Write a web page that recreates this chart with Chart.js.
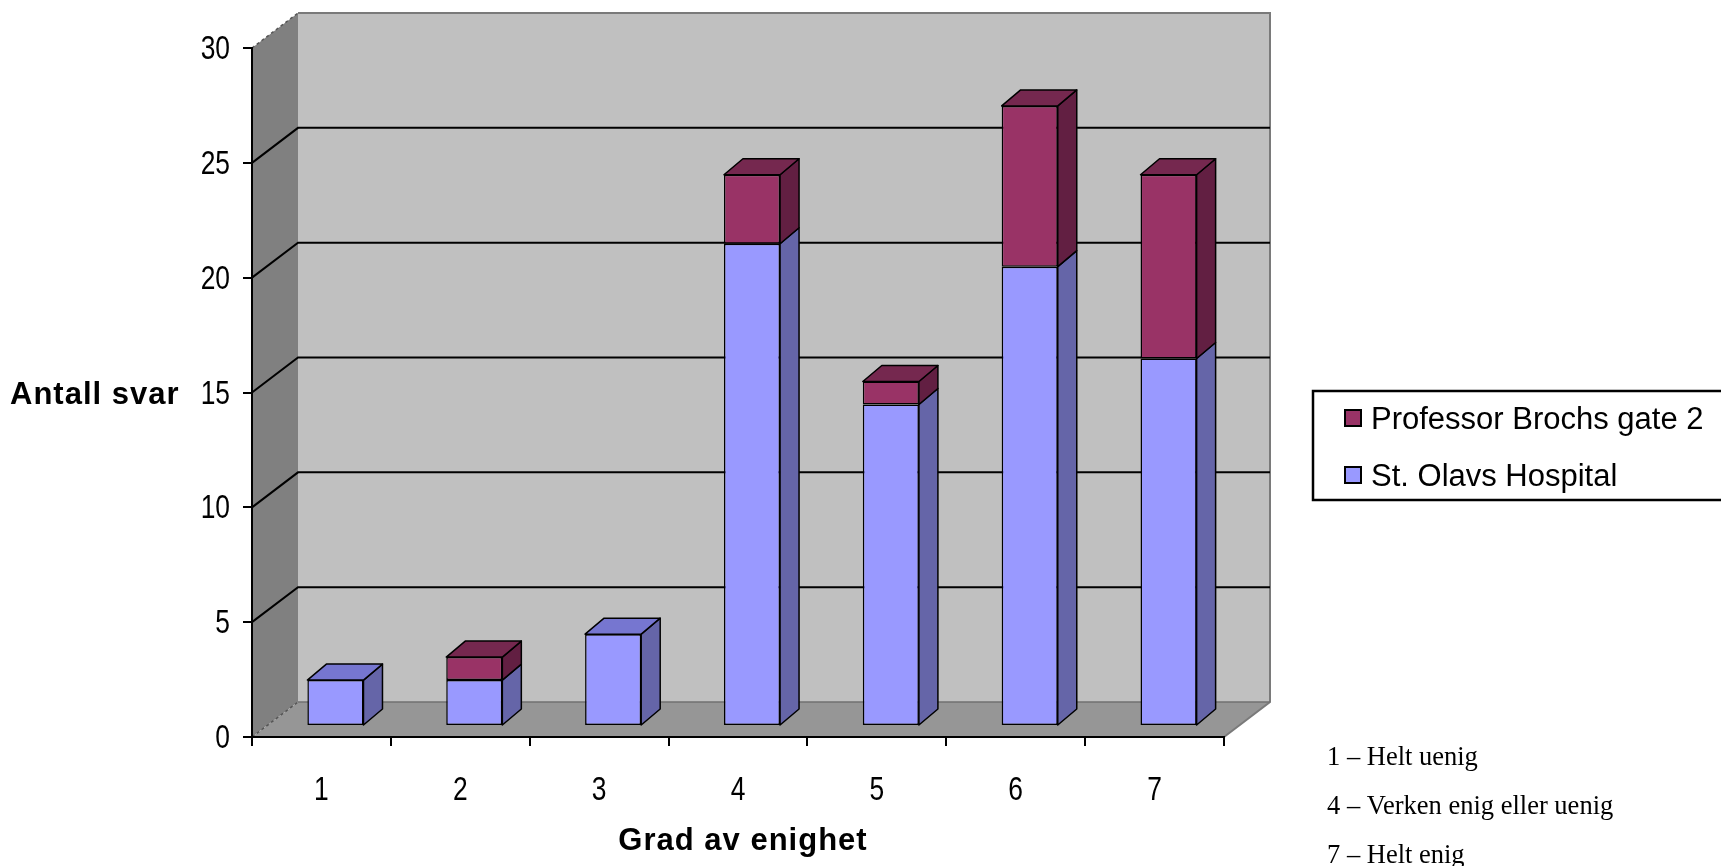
<!DOCTYPE html>
<html>
<head>
<meta charset="utf-8">
<script src="https://cdn.jsdelivr.net/npm/chart.js@4.4.1/dist/chart.umd.min.js"></script>
<style>
  html, body { margin: 0; padding: 0; background: #ffffff; }
  #wrap { width: 1721px; height: 866px; position: relative; }
</style>
</head>
<body>
<div id="wrap"><canvas id="chart"></canvas></div>
<script>
// Survey answers per agreement level (1 = disagree fully, 7 = agree fully)
const categories = ['1', '2', '3', '4', '5', '6', '7'];
const stOlavsHospital = [2, 2, 4, 21, 14, 20, 16];
const professorBrochsGate = [0, 1, 0, 3, 1, 7, 8];
const yTickValues = [0, 5, 10, 15, 20, 25, 30];
const seriesNames = ['St. Olavs Hospital', 'Professor Brochs gate 2'];
const legendOrder = ['Professor Brochs gate 2', 'St. Olavs Hospital'];
const yTitle = 'Antall svar';
const xTitle = 'Grad av enighet';
const scaleNotes = ['1 – Helt uenig', '4 – Verken enig eller uenig', '7 – Helt enig'];

// Oblique 3D look: depth of the walls and the bars, in pixels
const WALL_DX = 46, WALL_DY = 35;
const BAR_SHIFT_X = 14, BAR_SHIFT_Y = 11;
const BAR_DX = 19, BAR_DY = 16;

const SANS = '"Liberation Sans", Arial, Helvetica, sans-serif';
const SERIF = '"Liberation Serif", "Times New Roman", serif';
const TICK_FONT = '33px ' + SANS;
const TICK_SQUEEZE = 0.8;   // tick numbers use a condensed face

const faceColors = {
  'St. Olavs Hospital':      { front: '#9999FF', side: '#6565A8', top: '#7676D0' },
  'Professor Brochs gate 2': { front: '#993366', side: '#621F42', top: '#75284F' }
};

function poly(ctx, pts) {
  ctx.beginPath();
  ctx.moveTo(pts[0][0], pts[0][1]);
  for (let i = 1; i < pts.length; i++) ctx.lineTo(pts[i][0], pts[i][1]);
  ctx.closePath();
}

function squeezedText(ctx, txt, x, y, align, baseline) {
  ctx.save();
  ctx.translate(x, y);
  ctx.scale(TICK_SQUEEZE, 1);
  ctx.textAlign = align;
  ctx.textBaseline = baseline;
  ctx.fillText(txt, 0, 0);
  ctx.restore();
}

// Back wall, side wall, floor and the gridlines that run over them
const wallsPlugin = {
  id: 'walls',
  beforeDraw(chart) {
    const { ctx, chartArea: a } = chart;
    const y = chart.scales.y;
    const yTop = y.getPixelForValue(y.max);
    const yBot = y.getPixelForValue(y.min);
    ctx.save();
    ctx.fillStyle = '#ffffff';
    ctx.fillRect(0, 0, chart.width, chart.height);

    ctx.fillStyle = '#C0C0C0';
    ctx.fillRect(a.left + WALL_DX, yTop - WALL_DY, a.right - a.left, yBot - yTop);

    ctx.fillStyle = '#808080';
    poly(ctx, [[a.left, yTop], [a.left + WALL_DX, yTop - WALL_DY], [a.left + WALL_DX, yBot - WALL_DY], [a.left, yBot]]);
    ctx.fill();

    ctx.fillStyle = '#969696';
    poly(ctx, [[a.left, yBot], [a.left + WALL_DX, yBot - WALL_DY], [a.right + WALL_DX, yBot - WALL_DY], [a.right, yBot]]);
    ctx.fill();

    // outline of the back wall and the right floor edge
    ctx.strokeStyle = '#7a7a7a';
    ctx.lineWidth = 2;
    ctx.beginPath();
    ctx.moveTo(a.left + WALL_DX, yTop - WALL_DY);
    ctx.lineTo(a.right + WALL_DX, yTop - WALL_DY);
    ctx.lineTo(a.right + WALL_DX, yBot - WALL_DY);
    ctx.lineTo(a.right, yBot);
    ctx.stroke();

    y.ticks.forEach(t => {
      const py = y.getPixelForValue(t.value);
      const edge = (t.value === y.min || t.value === y.max);
      ctx.beginPath();
      if (edge) {
        ctx.strokeStyle = '#555555';
        ctx.lineWidth = 1.5;
        ctx.setLineDash([3, 3]);
        ctx.moveTo(a.left, py);
        ctx.lineTo(a.left + WALL_DX, py - WALL_DY);
        ctx.stroke();
        ctx.setLineDash([]);
        if (t.value === y.min) {
          ctx.beginPath();
          ctx.strokeStyle = '#707070';
          ctx.lineWidth = 1.5;
          ctx.moveTo(a.left + WALL_DX, py - WALL_DY);
          ctx.lineTo(a.right + WALL_DX, py - WALL_DY);
          ctx.stroke();
        }
      } else {
        ctx.strokeStyle = '#000000';
        ctx.lineWidth = 2;
        ctx.moveTo(a.left, py);
        ctx.lineTo(a.left + WALL_DX, py - WALL_DY);
        ctx.lineTo(a.right + WALL_DX, py - WALL_DY);
        ctx.stroke();
      }
    });
    ctx.restore();
  }
};

// Bars are drawn slightly behind the front plane; side and top faces follow each bar element
const bars3dPlugin = {
  id: 'bars3d',
  beforeDatasetsDraw(chart) {
    chart.ctx.save();
    chart.ctx.translate(BAR_SHIFT_X, -BAR_SHIFT_Y);
  },
  afterDatasetsDraw(chart) {
    const ctx = chart.ctx;
    const metas = chart.getSortedVisibleDatasetMetas();
    ctx.lineWidth = 1.5;
    ctx.lineJoin = 'round';
    ctx.strokeStyle = '#000000';
    for (let i = 0; i < chart.data.labels.length; i++) {
      let topBar = null;
      metas.forEach(meta => {
        const ds = chart.data.datasets[meta.index];
        if (!ds.data[i]) return;
        const { x, y, base, width } = meta.data[i].getProps(['x', 'y', 'base', 'width'], true);
        const r = x + width / 2;
        const c = faceColors[ds.label];
        ctx.fillStyle = c.side;
        poly(ctx, [[r, y], [r + BAR_DX, y - BAR_DY], [r + BAR_DX, base - BAR_DY], [r, base]]);
        ctx.fill();
        ctx.stroke();
        if (!topBar || y < topBar.y) topBar = { x, y, width, c };
      });
      if (topBar) {
        const l = topBar.x - topBar.width / 2, r = topBar.x + topBar.width / 2, t = topBar.y;
        ctx.fillStyle = topBar.c.top;
        poly(ctx, [[l, t], [l + BAR_DX, t - BAR_DY], [r + BAR_DX, t - BAR_DY], [r, t]]);
        ctx.fill();
        ctx.stroke();
      }
    }
    ctx.restore();
  }
};

// Tick numbers, axis titles, legend box and the scale notes
const textPlugin = {
  id: 'texts',
  afterDraw(chart) {
    const { ctx, chartArea: a } = chart;
    const x = chart.scales.x;
    const y = chart.scales.y;
    ctx.save();
    ctx.fillStyle = '#000000';

    // tick numbers placed from the scales
    ctx.font = TICK_FONT;
    y.ticks.forEach(t => {
      squeezedText(ctx, String(t.value), a.left - 22, y.getPixelForValue(t.value) + 2, 'right', 'middle');
    });
    categories.forEach((lab, i) => {
      squeezedText(ctx, lab, x.getPixelForValue(i), 791, 'center', 'middle');
    });

    ctx.textBaseline = 'alphabetic';
    ctx.font = 'bold 31px ' + SANS;
    try { ctx.letterSpacing = '1px'; } catch (e) {}
    ctx.textAlign = 'left';
    ctx.fillText(yTitle, 10, y.getPixelForValue(15) + 11);
    ctx.textAlign = 'center';
    ctx.fillText(xTitle, (a.left + a.right) / 2 + 5, 850);
    try { ctx.letterSpacing = '0px'; } catch (e) {}

    // legend
    ctx.lineWidth = 2.5;
    ctx.strokeStyle = '#000000';
    ctx.strokeRect(1313, 391, 420, 109);
    ctx.font = '31px ' + SANS;
    ctx.textAlign = 'left';
    legendOrder.forEach((name, k) => {
      const ds = chart.data.datasets.find(d => d.label === name);
      const sy = 410 + k * 57;
      ctx.fillStyle = ds.backgroundColor;
      ctx.fillRect(1345, sy, 16, 16);
      ctx.lineWidth = 2;
      ctx.strokeRect(1345, sy, 16, 16);
      ctx.fillStyle = '#000000';
      ctx.fillText(name, 1371, sy + 19);
    });

    // scale notes
    ctx.font = '26.5px ' + SERIF;
    scaleNotes.forEach((txt, k) => {
      ctx.fillText(txt, 1327, 765 + k * 49);
    });
    ctx.restore();
  }
};

const datasets = [
  { label: seriesNames[0], data: stOlavsHospital },
  { label: seriesNames[1], data: professorBrochsGate }
].map(d => Object.assign(d, {
  backgroundColor: faceColors[d.label].front,
  borderColor: '#000000',
  borderWidth: 1.5,
  borderSkipped: false,
  categoryPercentage: 1,
  barPercentage: 0.404
}));

new Chart(document.getElementById('chart'), {
  type: 'bar',
  data: { labels: categories, datasets },
  options: {
    responsive: true,
    maintainAspectRatio: false,
    animation: false,
    devicePixelRatio: 1,
    layout: { padding: { left: 0, top: 48, right: 497, bottom: 0 } },
    plugins: { legend: { display: false }, tooltip: { enabled: false } },
    scales: {
      x: {
        stacked: true,
        grid: { offset: true, drawOnChartArea: false, drawTicks: true, tickLength: 9, color: '#000000', lineWidth: 2 },
        border: { display: true, color: '#000000', width: 2 },
        ticks: { display: false },
        afterFit(s) { s.height = 129; }
      },
      y: {
        stacked: true,
        min: 0,
        max: 30,
        afterBuildTicks(s) { s.ticks = yTickValues.map(v => ({ value: v })); },
        grid: { drawOnChartArea: false, drawTicks: true, tickLength: 9, color: '#000000', lineWidth: 2 },
        border: { display: true, color: '#000000', width: 2 },
        ticks: { display: false },
        afterFit(s) { s.width = 252; }
      }
    }
  },
  plugins: [wallsPlugin, bars3dPlugin, textPlugin]
});
</script>
</body>
</html>
